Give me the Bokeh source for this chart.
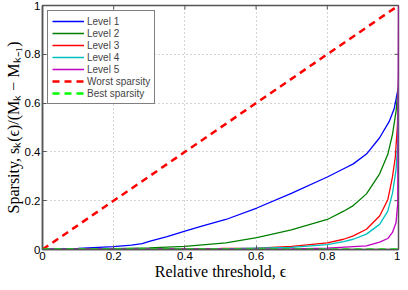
import math
from bokeh.plotting import figure
from bokeh.models import Range1d, FixedTicker, Legend, LegendItem
from bokeh.embed import file_html
from bokeh.resources import INLINE

# ---- data ----
x_l1 = [0, 0.1, 0.2, 0.25, 0.28, 0.3, 0.35, 0.4, 0.45, 0.515, 0.602, 0.699, 0.8, 0.846, 0.873, 0.91, 0.947, 0.974, 0.988, 0.997, 1.0]
y_l1 = [0, 0.005, 0.012, 0.018, 0.024, 0.033, 0.053, 0.075, 0.097, 0.123, 0.17, 0.23, 0.297, 0.331, 0.351, 0.391, 0.458, 0.525, 0.578, 0.645, 0.66]

x_l2 = [0, 0.1, 0.2, 0.3, 0.4, 0.515, 0.602, 0.699, 0.8, 0.846, 0.873, 0.91, 0.947, 0.97, 0.983, 0.993, 0.998, 1.0]
y_l2 = [0, 0.001, 0.003, 0.007, 0.013, 0.027, 0.049, 0.08, 0.123, 0.157, 0.18, 0.228, 0.31, 0.39, 0.471, 0.565, 0.64, 0.67]

x_l3 = [0, 0.3, 0.5, 0.602, 0.7, 0.8, 0.846, 0.873, 0.91, 0.947, 0.97, 0.983, 0.991, 0.997, 1.0]
y_l3 = [0, 0.002, 0.004, 0.006, 0.013, 0.027, 0.042, 0.056, 0.083, 0.137, 0.204, 0.297, 0.378, 0.51, 0.7]

x_l4 = [0, 0.5, 0.7, 0.8, 0.846, 0.873, 0.91, 0.947, 0.97, 0.983, 0.993, 0.998, 1.0]
y_l4 = [0, 0.002, 0.009, 0.02, 0.032, 0.042, 0.063, 0.103, 0.157, 0.23, 0.324, 0.44, 0.7]

x_l5 = [0, 0.7, 0.8, 0.91, 0.947, 0.97, 0.983, 0.993, 0.998, 1.0]
y_l5 = [0, 0.002, 0.006, 0.015, 0.03, 0.045, 0.07, 0.11, 0.19, 1.0]

x_worst = [0, 1]
y_worst = [0, 1]
x_best = [0, 1]
y_best = [0, 0]

ticks = [0, 0.2, 0.4, 0.6, 0.8, 1.0]
tick_labels = {0: "0", 0.2: "0.2", 0.4: "0.4", 0.6: "0.6", 0.8: "0.8", 1: "1"}

labels = ["Level 1", "Level 2", "Level 3", "Level 4", "Level 5", "Worst sparsity", "Best sparsity"]
colors = ["#0000ff", "#008000", "#ff0000", "#00bfbf", "#bf00bf", "#ff0000", "#00ff00"]

BOX = "#555555"

p = figure(width=400, height=282, output_backend="svg", toolbar_location=None,
           x_range=Range1d(0, 1), y_range=Range1d(0, 1),
           min_border_left=42, min_border_right=2, min_border_top=5, min_border_bottom=33)

p.background_fill_color = "white"
p.outline_line_color = BOX
p.outline_line_width = 1.5

for ax in (p.xaxis[0], p.yaxis[0]):
    ax.ticker = FixedTicker(ticks=ticks)
    ax.major_label_overrides = tick_labels
    ax.major_tick_in = 4
    ax.major_tick_out = 0
    ax.minor_tick_in = 0
    ax.minor_tick_out = 0
    ax.axis_line_color = BOX
    ax.axis_line_width = 1.5
    ax.major_tick_line_color = BOX
    ax.major_label_text_font = "Liberation Sans"
    ax.major_label_text_font_size = "11.5px"
    ax.major_label_text_color = "black"
    ax.major_label_standoff = 2
    ax.axis_label_text_font = "Liberation Serif"
    ax.axis_label_text_font_style = "normal"
    ax.axis_label_text_font_size = "16px"
    ax.axis_label_text_color = "black"
    ax.axis_label_standoff = 0

p.xaxis[0].axis_label = "Relative threshold, ϵ"
p.yaxis[0].axis_label = "Sparsity, sₖ(ϵ)/(Mₖ − Mₖ₋₁)"

p.xgrid.ticker = FixedTicker(ticks=ticks)
p.ygrid.ticker = FixedTicker(ticks=ticks)
for g in (p.xgrid[0], p.ygrid[0]):
    g.grid_line_color = "#aaaaaa"
    g.grid_line_dash = "1 3"
    g.grid_line_width = 1

# inward ticks on the top and right edges of the box (Matlab style)
p.ray(x=ticks, y=[1] * len(ticks), length=4, length_units="screen",
      angle=-math.pi / 2, line_color=BOX, line_width=1)
p.ray(x=[1] * len(ticks), y=ticks, length=4, length_units="screen",
      angle=math.pi, line_color=BOX, line_width=1)

series = [(x_l1, y_l1), (x_l2, y_l2), (x_l3, y_l3), (x_l4, y_l4), (x_l5, y_l5)]
renderers = []
for (xs, ys), c in zip(series, colors[:5]):
    renderers.append(p.line(xs, ys, line_color=c, line_width=1.3))
renderers.append(p.line(x_worst, y_worst, line_color=colors[5], line_width=2.5, line_dash="7 5"))
renderers.append(p.line(x_best, y_best, line_color=colors[6], line_width=2.5, line_dash="7 5"))

legend = Legend(items=[LegendItem(label=l, renderers=[r]) for l, r in zip(labels, renderers)],
                location="top_left")
legend.label_text_font = "Liberation Sans"
legend.label_text_font_size = "10px"
legend.label_height = 12
legend.glyph_height = 12
legend.glyph_width = 32
legend.spacing = 0
legend.padding = 4
legend.margin = 5
legend.label_standoff = 3
legend.border_line_color = "black"
legend.border_line_width = 1
legend.background_fill_alpha = 1
p.add_layout(legend)

open("out.html", "w").write(file_html(p, INLINE))
